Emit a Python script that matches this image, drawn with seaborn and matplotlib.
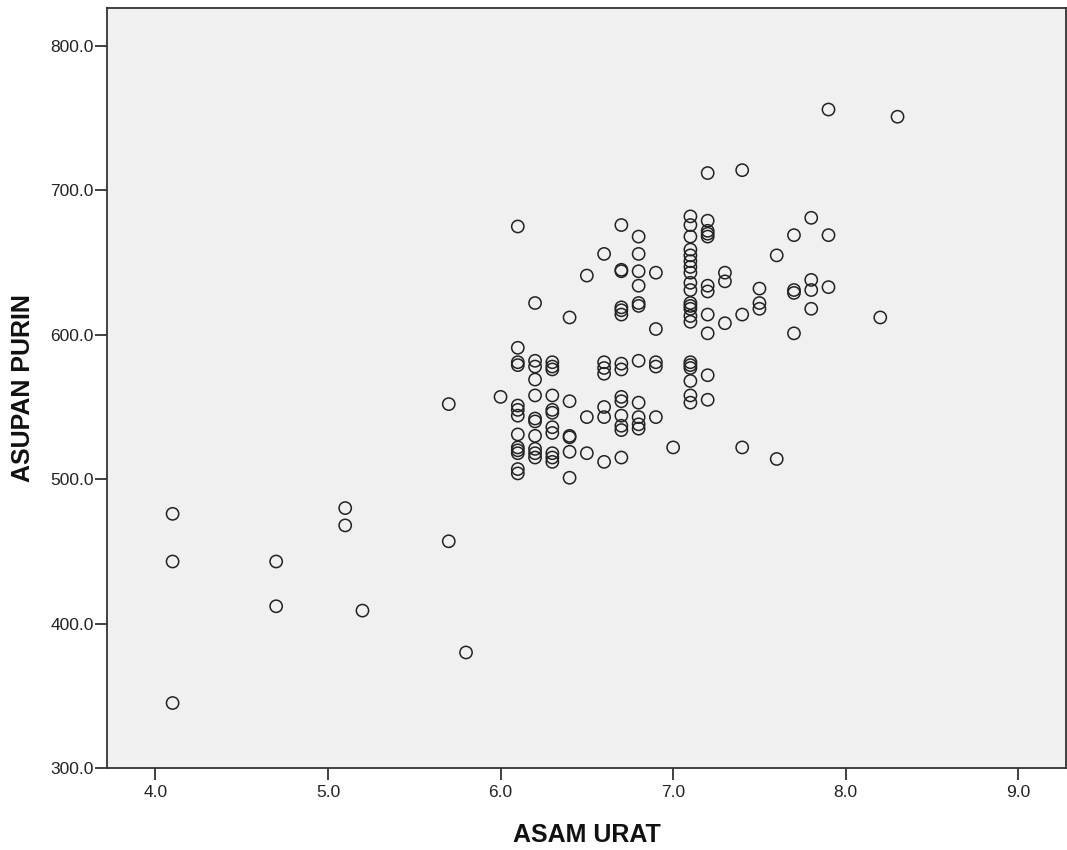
import matplotlib
matplotlib.use("Agg")
import matplotlib.pyplot as plt
import seaborn as sns
import pandas as pd
from matplotlib.ticker import FormatStrFormatter, FixedLocator

# ---- data (ASAM URAT vs ASUPAN PURIN) ----
asam_low = [4.1, 4.1, 4.1, 4.7, 4.7, 5.1, 5.1, 5.2, 5.7, 5.8, 5.7, 6.0]
purin_low = [476, 443, 345, 443, 412, 480, 468, 409, 457, 380, 552, 557]

purin_61 = [675, 591, 581, 579, 551, 548, 544, 531, 522, 520, 518, 507, 504]
purin_62 = [622, 582, 578, 569, 558, 542, 540, 530, 521, 518, 515]
purin_63 = [581, 578, 576, 558, 548, 546, 536, 532, 518, 515, 512]
purin_64 = [612, 554, 530, 529, 519, 501]
purin_65 = [641, 543, 518]
purin_66 = [656, 581, 577, 573, 550, 543, 512]
purin_67 = [676, 645, 644, 619, 617, 614, 580, 576, 557, 554, 544, 537, 534, 515]
purin_68 = [668, 656, 644, 634, 622, 620, 582, 553, 543, 538, 535]
purin_69 = [643, 604, 581, 578, 543]
purin_70 = [522]
purin_71 = [682, 676, 668, 659, 655, 651, 647, 643, 636, 631, 622, 620, 618,
            613, 609, 581, 579, 577, 568, 558, 553]
purin_72 = [712, 679, 672, 670, 668, 634, 630, 614, 601, 572, 555]
purin_73 = [643, 637, 608]
purin_74 = [714, 614, 522]
purin_75 = [632, 622, 618]
purin_76 = [655, 514]
purin_77 = [669, 631, 629, 601]
purin_78 = [681, 638, 631, 618]
purin_79 = [756, 669, 633]
purin_82 = [612]
purin_83 = [751]

columns = {
    6.1: purin_61, 6.2: purin_62, 6.3: purin_63, 6.4: purin_64, 6.5: purin_65,
    6.6: purin_66, 6.7: purin_67, 6.8: purin_68, 6.9: purin_69, 7.0: purin_70,
    7.1: purin_71, 7.2: purin_72, 7.3: purin_73, 7.4: purin_74, 7.5: purin_75,
    7.6: purin_76, 7.7: purin_77, 7.8: purin_78, 7.9: purin_79, 8.2: purin_82,
    8.3: purin_83,
}

x_ticks = [4.0, 5.0, 6.0, 7.0, 8.0, 9.0]
y_ticks = [300.0, 400.0, 500.0, 600.0, 700.0, 800.0]
x_label = "ASAM URAT"
y_label = "ASUPAN PURIN"

xs = list(asam_low)
ys = list(purin_low)
for k, vals in columns.items():
    xs.extend([k] * len(vals))
    ys.extend(vals)
df = pd.DataFrame({x_label: xs, y_label: ys})

# ---- figure ----
plt.rcParams['font.family'] = ['Liberation Sans', 'DejaVu Sans']
W, H = 1067, 850
fig = plt.figure(figsize=(W / 100, H / 100), dpi=100, facecolor='white')
left, right, top, bottom = 107, 1066, 8, 768
ax = fig.add_axes([left / W, (H - bottom) / H, (right - left) / W, (bottom - top) / H])
ax.set_facecolor('#F0F0F0')

sns.scatterplot(data=df, x=x_label, y=y_label, ax=ax, marker='o', s=78,
                facecolors='none', edgecolor='#222222', linewidth=1.1,
                legend=False, zorder=3)

ax.set_xlim(3.72, 9.276)
ax.set_ylim(300, 826.3)
ax.xaxis.set_major_locator(FixedLocator(x_ticks))
ax.yaxis.set_major_locator(FixedLocator(y_ticks))
ax.xaxis.set_major_formatter(FormatStrFormatter('%.1f'))
ax.yaxis.set_major_formatter(FormatStrFormatter('%.1f'))
ax.grid(False)

for sp in ax.spines.values():
    sp.set_color('#333333')
    sp.set_linewidth(1.3)

ax.tick_params(axis='both', direction='out', length=8.5, width=1.3,
               color='#333333', labelsize=12.5, labelcolor='#222222')
ax.tick_params(axis='y', pad=1)
ax.tick_params(axis='x', pad=4)

ax.set_xlabel(x_label, fontsize=18, fontweight='bold', color='#111111')
ax.set_ylabel(y_label, fontsize=18, fontweight='bold', color='#111111')
ax.xaxis.label.set_va('center')
ax.yaxis.label.set_va('center')
ax.xaxis.set_label_coords(0.5, (bottom - 835) / (bottom - top))
ax.yaxis.set_label_coords((23 - left) / (right - left), 0.5)

fig.savefig('out.png', dpi=100, facecolor='white')
